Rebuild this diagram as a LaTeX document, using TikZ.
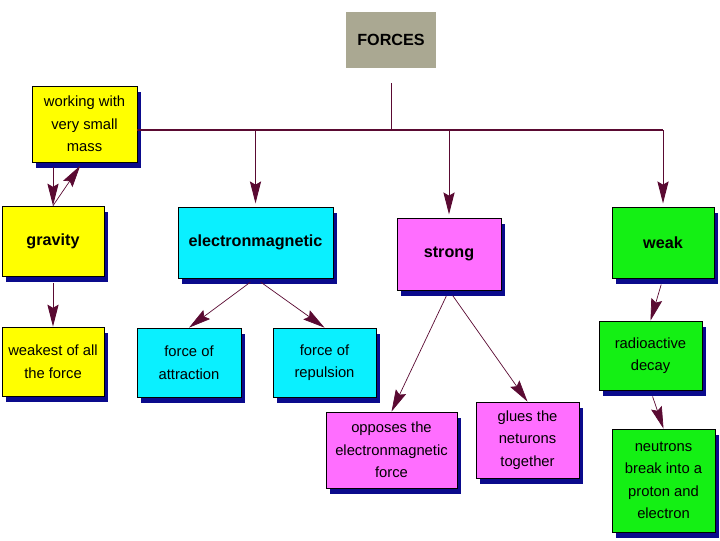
\documentclass[tikz,border=0pt]{standalone}
\usepackage{fontspec}
\setmainfont{Liberation Sans}
\usetikzlibrary{shadows, arrows.meta}
\definecolor{boxshadow}{RGB}{10,10,140}
\definecolor{linkred}{RGB}{90,10,50}
\definecolor{forcegray}{RGB}{170,168,146}
\definecolor{gravyellow}{RGB}{255,255,0}
\definecolor{emcyan}{RGB}{10,240,255}
\definecolor{strongpink}{RGB}{255,110,255}
\definecolor{weakgreen}{RGB}{20,240,20}
\tikzset{
	box/.style={draw=black, line width=0.5pt, align=center, inner sep=0pt, font=\fontsize{10.5}{16}\selectfont, general shadow={fill=boxshadow, shadow xshift=0.1cm, shadow yshift=-0.14cm}},
	head/.style={box, font=\bfseries\fontsize{11.5}{14}\selectfont},
	linkarrow/.style={line width=0.7pt, draw=linkred, -{Stealth[length=5.5mm, width=2.8mm, inset=0.8mm]}},
	thinarrow/.style={linkarrow, line width=0.5pt, shorten <=0.16cm}
}

\begin{document}
\begin{tikzpicture}[x=0.025cm, y=-0.025cm]
	\useasboundingbox (0,0) rectangle (720,540);
	% top of the map
	\node[fill=forcegray, font=\bfseries\fontsize{11.5}{14}\selectfont, minimum width=2.25cm, minimum height=1.4cm] (forces) at (391,40) {FORCES};
	\node[box, fill=gravyellow, minimum width=2.625cm, minimum height=1.9cm] (wrk) at (84.5,124) {working with\\very small\\mass};
	% the four forces
	\node[head, fill=gravyellow, minimum width=2.55cm, minimum height=1.75cm] (grav) at (53,241) {gravity};
	\node[head, fill=emcyan, minimum width=3.875cm, minimum height=1.775cm] (elec) at (255.5,242.5) {electronmagnetic};
	\node[head, fill=strongpink, minimum width=2.6cm, minimum height=1.8cm] (strong) at (449,254) {strong};
	\node[head, fill=weakgreen, minimum width=2.55cm, minimum height=1.775cm] (weak) at (663,242.5) {weak};
	% what they do
	\node[box, fill=gravyellow, minimum width=2.55cm, minimum height=1.725cm] (weakest) at (53,361.5) {weakest of all\\the force};
	\node[box, fill=emcyan, minimum width=2.6cm, minimum height=1.725cm] (attr) at (189,362.5) {force of\\attraction};
	\node[box, fill=emcyan, minimum width=2.575cm, minimum height=1.725cm] (rep) at (324.5,362.5) {force of\\repulsion};
	\node[box, fill=strongpink, minimum width=3.275cm, minimum height=1.9cm] (opp) at (391.5,450) {opposes the\\electronmagnetic\\force};
	\node[box, fill=strongpink, minimum width=2.575cm, minimum height=1.9cm] (glue) at (527.5,440) {glues the\\neturons\\together};
	\node[box, fill=weakgreen, minimum width=2.575cm, minimum height=1.725cm] (radio) at (650.5,355.5) {radioactive\\decay};
	\node[box, fill=weakgreen, minimum width=2.575cm, minimum height=2.575cm] (neut) at (663.5,480.5) {neutrons\\break into a\\proton and\\electron};

	\coordinate (top) at (391,83);
	\coordinate (bus) at (391,130);
	\draw[line width=0.6pt, draw=linkred] (top) -- (bus);
	\draw[line width=1.4pt, draw=linkred] (wrk.east |- bus) -- (weak.north |- bus);
	\draw[linkarrow, shorten >=0.08cm] (elec.north |- bus) -- (elec.north);
	\draw[linkarrow, shorten >=0.08cm] (strong.north |- bus) -- (strong.north);
	\draw[linkarrow, shorten >=0.08cm] (weak.north |- bus) -- (weak.north);

	\draw[linkarrow, shorten <=0.12cm] (wrk.south -| grav.north) -- (grav.north);
	\draw[thinarrow, shorten <=0cm, shorten >=0.1cm] (grav.north) -- ([xshift=-0.05cm]wrk.south);
	\draw[linkarrow, shorten <=0.16cm] (grav.south) -- (weakest.north);
	\draw[thinarrow] (elec.south) -- (attr.north);
	\draw[thinarrow] (elec.south) -- (rep.north);
	\draw[thinarrow] (strong.south) -- (opp.north);
	\draw[thinarrow] (strong.south) -- (glue.north);
	\draw[thinarrow] (weak.south) -- (radio.north);
	\draw[thinarrow] (radio.south) -- (neut.north);
\end{tikzpicture}
\end{document}
